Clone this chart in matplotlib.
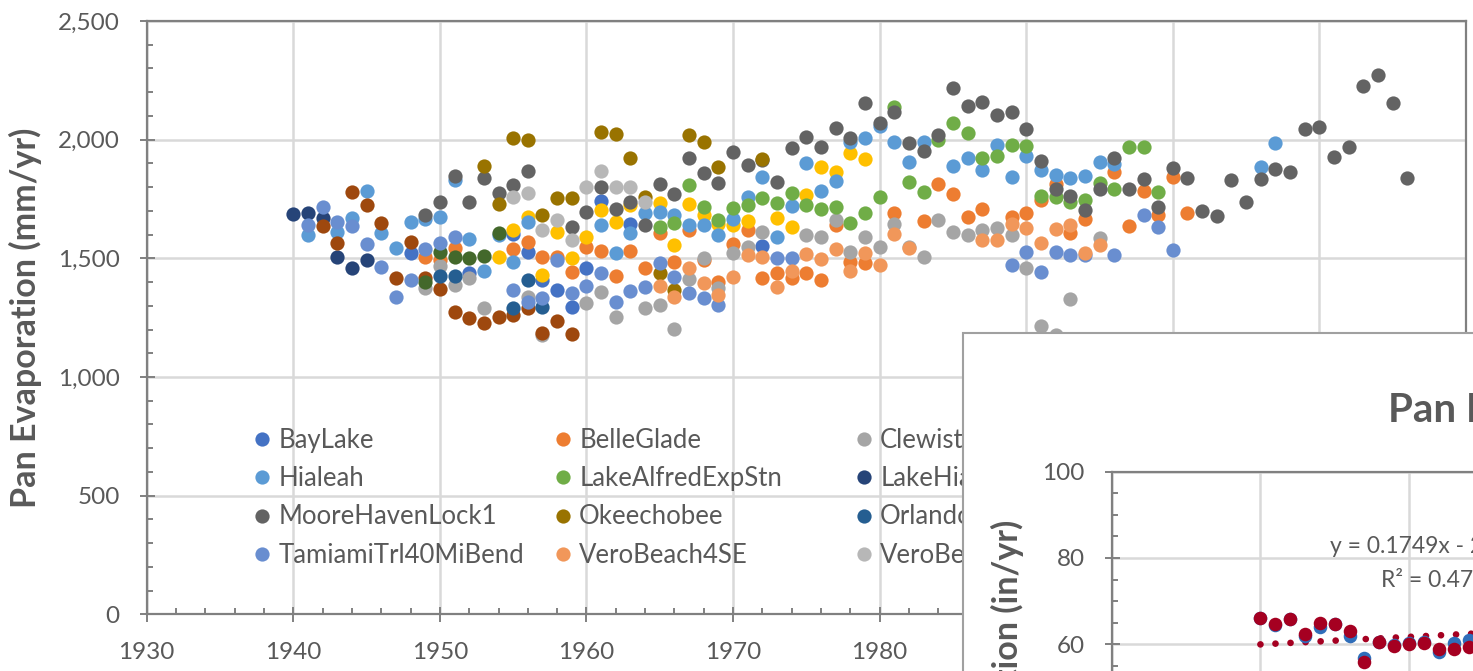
import matplotlib
matplotlib.use("Agg")
import matplotlib.pyplot as plt
from matplotlib.patches import Rectangle
from matplotlib.ticker import MultipleLocator, FuncFormatter

# ---------------- data (main chart, mm/yr) ----------------
baylake_years = [1948, 1952, 1955, 1956, 1957, 1958, 1959, 1960, 1961, 1963, 1972]
baylake_vals = [1524, 1440, 1601, 1525, 1409, 1367, 1296, 1458, 1743, 1645, 1553]

belleglade_years = [1949, 1950, 1951, 1955, 1956, 1957, 1958, 1959, 1960, 1961, 1962, 1963, 1964,
                    1965, 1966, 1967, 1968, 1969, 1970, 1971, 1972, 1973, 1974, 1975, 1976, 1977,
                    1978, 1979, 1981, 1983, 1984, 1985, 1986, 1987, 1989, 1990, 1991, 1992, 1993,
                    1994, 1996, 1997, 1998, 1999, 2000, 2001]
belleglade_vals = [1507, 1493, 1542, 1538, 1570, 1507, 1507, 1444, 1549, 1532, 1427, 1532, 1460,
                   1605, 1486, 1620, 1493, 1402, 1560, 1619, 1418, 1440, 1416, 1437, 1409, 1640,
                   1486, 1479, 1690, 1657, 1813, 1771, 1675, 1707, 1675, 1692, 1746, 1812, 1608,
                   1666, 1865, 1636, 1785, 1683, 1841, 1693]

clewiston_years = [1949, 1950, 1951, 1952, 1953, 1956, 1957, 1960, 1961, 1962, 1964, 1965, 1966,
                   1967, 1968, 1969, 1970, 1971, 1972, 1975, 1976, 1977, 1978, 1979, 1980, 1981,
                   1982, 1983, 1984, 1985, 1986, 1987, 1988, 1989, 1990, 1991, 1992, 1993, 1995]
clewiston_vals = [1374, 1468, 1388, 1416, 1289, 1338, 1175, 1310, 1359, 1254, 1289, 1303, 1201,
                  1412, 1500, 1374, 1521, 1549, 1612, 1598, 1589, 1661, 1528, 1591, 1549, 1643,
                  1549, 1507, 1661, 1612, 1598, 1619, 1626, 1598, 1458, 1215, 1177, 1327, 1584]

everglades_years = [1954, 1955, 1956, 1957, 1958, 1959, 1960, 1961, 1962, 1963, 1965, 1966, 1967,
                    1968, 1969, 1970, 1971, 1973, 1974, 1975, 1976, 1977, 1978, 1979]
everglades_vals = [1507, 1619, 1675, 1430, 1613, 1500, 1591, 1704, 1654, 1725, 1732, 1556, 1729,
                   1683, 1645, 1640, 1659, 1669, 1633, 1767, 1883, 1865, 1945, 1917]

hialeah_years = [1941, 1943, 1944, 1945, 1946, 1947, 1948, 1949, 1950, 1951, 1952, 1953, 1954,
                 1955, 1956, 1961, 1962, 1963, 1964, 1965, 1966, 1967, 1968, 1969, 1970, 1971,
                 1972, 1973, 1974, 1975, 1976, 1977, 1978, 1979, 1980, 1981, 1982, 1983, 1985,
                 1986, 1987, 1988, 1989, 1990, 1991, 1992, 1993, 1994, 1995, 1996, 2006, 2007]
hialeah_vals = [1598, 1612, 1669, 1785, 1608, 1542, 1654, 1664, 1673, 1830, 1580, 1448, 1598,
                1486, 1654, 1640, 1521, 1608, 1690, 1697, 1683, 1640, 1640, 1598, 1664, 1757,
                1841, 1591, 1720, 1903, 1785, 1827, 1991, 2006, 2058, 1991, 1907, 1990, 1889,
                1921, 1872, 1977, 1844, 1931, 1872, 1851, 1837, 1847, 1907, 1897, 1886, 1987]

lakealfred_years = [1965, 1966, 1967, 1968, 1969, 1970, 1971, 1972, 1973, 1974, 1975, 1976, 1977,
                    1978, 1979, 1980, 1981, 1982, 1983, 1984, 1985, 1986, 1987, 1988, 1989, 1990,
                    1991, 1992, 1993, 1994, 1995, 1996, 1997, 1998, 1999]
lakealfred_vals = [1634, 1648, 1809, 1718, 1661, 1711, 1725, 1753, 1734, 1774, 1725, 1707, 1718,
                   1650, 1692, 1760, 2136, 1823, 1781, 1999, 2069, 2027, 1921, 1931, 1977, 1973,
                   1763, 1760, 1739, 1746, 1819, 1791, 1968, 1968, 1781]

lakehia_years = [1940, 1941, 1942, 1943, 1944, 1945]
lakehia_vals = [1685, 1690, 1669, 1507, 1458, 1493]

lakeplacid_years = [1942, 1943, 1944, 1945, 1946, 1947, 1948, 1949, 1950, 1951, 1952, 1953, 1954,
                    1955, 1956, 1957, 1958, 1959]
lakeplacid_vals = [1636, 1566, 1778, 1725, 1650, 1416, 1570, 1416, 1370, 1275, 1247, 1226, 1251,
                   1261, 1290, 1184, 1237, 1181]

moore_years = [1949, 1950, 1951, 1952, 1953, 1954, 1955, 1956,
               1959, 1960, 1961, 1962, 1963, 1964, 1965, 1966, 1967, 1968,
               1969, 1970, 1971, 1972, 1973, 1974, 1975, 1976, 1977, 1978,
               1979, 1980, 1981, 1982, 1983, 1984, 1985, 1986, 1987, 1988,
               1989, 1990, 1991, 1992, 1993, 1994, 1995, 1996, 1997, 1998,
               1999, 2000, 2001, 2002, 2003, 2004, 2005, 2006, 2007, 2008,
               2009, 2010, 2011, 2012, 2013, 2014, 2015, 2016]
moore_vals = [1682, 1737, 1845, 1737, 1838, 1775, 1809, 1869,
              1633, 1696, 1802, 1708, 1739, 1640, 1813, 1771, 1921, 1861,
              1819, 1949, 1893, 1914, 1823, 1963, 2012, 1970, 2050, 2006,
              2153, 2069, 2115, 1985, 1952, 2020, 2216, 2142, 2160, 2104,
              2115, 2045, 1912, 1792, 1763, 1704, 1791, 1921, 1791, 1834,
              1715, 1879, 1840, 1699, 1678, 1830, 1739, 1834, 1876, 1862,
              2045, 2055, 1928, 1970, 2227, 2272, 2153, 1840]

okee_years = [1953, 1954, 1955, 1956, 1957, 1958, 1959, 1961, 1962, 1963, 1964, 1965, 1966,
              1967, 1968, 1969, 1972]
okee_vals = [1890, 1729, 2008, 1999, 1684, 1755, 1753, 2031, 2022, 1921, 1760, 1437, 1367,
             2020, 1991, 1886, 1917]

orlando_years = [1950, 1951, 1955, 1956, 1957]
orlando_vals = [1425, 1425, 1289, 1409, 1294]

ortona_years = [1949, 1950, 1951, 1952, 1953, 1954]
ortona_vals = [1401, 1528, 1507, 1503, 1511, 1605]

tamiami_years = [1941, 1942, 1943, 1944, 1945, 1946, 1947, 1948, 1949, 1950, 1951, 1955, 1956,
                 1957, 1958, 1959, 1960, 1961, 1962, 1963, 1964, 1965, 1966, 1967, 1968, 1969,
                 1973, 1974, 1989, 1990, 1991, 1992, 1993, 1994, 1996, 1998, 1999, 2000]
tamiami_vals = [1640, 1718, 1654, 1636, 1560, 1462, 1336, 1409, 1540, 1566, 1591, 1367, 1317,
                1332, 1493, 1353, 1384, 1437, 1317, 1364, 1380, 1479, 1422, 1355, 1332, 1303,
                1500, 1500, 1470, 1528, 1442, 1528, 1514, 1514, 1514, 1683, 1631, 1535]

vero4se_years = [1965, 1966, 1967, 1968, 1969, 1970, 1971, 1972, 1973, 1974, 1975, 1976, 1977,
                 1978, 1979, 1980, 1981, 1982, 1987, 1988, 1989, 1990, 1991, 1992, 1993, 1994,
                 1995]
vero4se_vals = [1383, 1338, 1460, 1397, 1346, 1422, 1514, 1507, 1380, 1448, 1518, 1496, 1538,
                1448, 1521, 1472, 1602, 1542, 1579, 1577, 1643, 1626, 1563, 1622, 1640, 1521,
                1556]

veromuni_years = [1955, 1956, 1957, 1958, 1959, 1960, 1961, 1962, 1963, 1964]
veromuni_vals = [1760, 1774, 1619, 1661, 1577, 1802, 1869, 1802, 1802, 1739]

series_names = ["BayLake", "BelleGlade", "Clewiston", "Everglades",
                "Hialeah", "LakeAlfredExpStn", "LakeHiawatha", "LakePlacid",
                "MooreHavenLock1", "Okeechobee", "OrlandoWSO", "Ortona",
                "TamiamiTrl40MiBend", "VeroBeach4SE", "VeroBeachMuni"]
series_colors = ["#4472C4", "#ED7D31", "#A5A5A5", "#FFC000",
                 "#5B9BD5", "#70AD47", "#264478", "#9E480E",
                 "#636363", "#997300", "#255E91", "#43682B",
                 "#698ED0", "#F1975A", "#B7B7B7"]
series_years = [baylake_years, belleglade_years, clewiston_years, everglades_years,
                hialeah_years, lakealfred_years, lakehia_years, lakeplacid_years,
                moore_years, okee_years, orlando_years, ortona_years,
                tamiami_years, vero4se_years, veromuni_years]
series_vals = [baylake_vals, belleglade_vals, clewiston_vals, everglades_vals,
               hialeah_vals, lakealfred_vals, lakehia_vals, lakeplacid_vals,
               moore_vals, okee_vals, orlando_vals, ortona_vals,
               tamiami_vals, vero4se_vals, veromuni_vals]

# ---------------- data (inset chart, in/yr) ----------------
inset_years = [1940, 1941, 1942, 1943, 1944, 1945, 1946, 1947, 1948, 1949, 1950, 1951, 1952, 1953, 1954]
inset_red = [66.0, 64.7, 65.8, 62.4, 64.9, 64.7, 63.1, 55.9, 60.6, 59.6, 60.0, 60.2, 58.8, 58.8, 59.4]
inset_blue = [66.0, 64.5, 65.8, 62.0, 64.1, 64.6, 61.9, 56.8, 60.6, 59.8, 60.2, 60.6, 58.3, 60.2, 61.0]
trend_slope = 0.1749
trend_intercept = -279.33
trend_span = [1940, 2020]
trend_r2 = "0.4712"

# ---------------- styling ----------------
W, H, DPI = 1473, 671, 100
plt.rcParams['font.family'] = ['Lato', 'DejaVu Sans']
TXT = '#595959'
AXC = '#808080'
GRID = '#D9D9D9'
TICK_FS = 17.5
LEG_FS = 18.5
MS = 105
LAST_VISIBLE_YEAR_LABEL = 1980  # later year labels sit under the overlapping inset


def px_rect(l, t, r, b):
    return [l / W, 1 - b / H, (r - l) / W, (b - t) / H]


def fx(x):
    return x / W


def fy(y):
    return 1 - y / H


fig = plt.figure(figsize=(W / DPI, H / DPI), dpi=DPI)
fig.patch.set_facecolor('white')

# ---------------- main chart ----------------
ax = fig.add_axes(px_rect(146.7, 21, 1466, 614.3))
ax.set_axisbelow(True)
for yrs, vals, col in zip(series_years, series_vals, series_colors):
    ax.scatter(yrs, vals, s=MS, color=col, linewidths=0, zorder=3)

ax.xaxis.set_major_locator(MultipleLocator(10))
ax.xaxis.set_minor_locator(MultipleLocator(2))
ax.xaxis.set_major_formatter(FuncFormatter(
    lambda v, p: f"{int(round(v))}" if v <= LAST_VISIBLE_YEAR_LABEL + 0.5 else ""))
ax.yaxis.set_major_locator(MultipleLocator(500))
ax.yaxis.set_minor_locator(MultipleLocator(100))
ax.yaxis.set_major_formatter(FuncFormatter(lambda v, p: f"{int(v):,}"))
ax.grid(which='major', color=GRID, lw=1.8)
for sp in ax.spines.values():
    sp.set_color(AXC)
    sp.set_linewidth(1.6)
ax.tick_params(which='major', direction='inout', length=10.8, width=1.4, color=AXC,
               labelsize=TICK_FS, labelcolor=TXT, pad=14)
ax.tick_params(axis='x', which='major', pad=14.5)
ax.tick_params(which='minor', direction='in', length=4.3, width=1.4, color=AXC)
ax.set_ylabel('Pan Evaporation (mm/yr)', fontsize=24.5, fontweight='bold', color=TXT)
ax.yaxis.set_label_coords(-0.0794, 0.5)

# legend (4 columns, row-major like Excel)
for i, (name, col) in enumerate(zip(series_names, series_colors)):
    r, c = divmod(i, 4)
    mx = 261.7 + 301 * c
    my = 439.3 + 38.1 * r
    ax.scatter([fx(mx)], [fy(my)], s=MS, color=col, linewidths=0,
               transform=fig.transFigure, clip_on=False, zorder=4)
    ax.text(fx(mx + 16.5), fy(my + 9.0), name, fontsize=LEG_FS, color=TXT,
            ha='left', va='baseline', transform=fig.transFigure, clip_on=False, zorder=4)
ax.set_xlim(1930, 2020)
ax.set_ylim(0, 2500)

# ---------------- overlapping inset chart ----------------
frame = Rectangle((fx(963), fy(H + 20)), (W + 20 - 963) / W, (H + 20 - 333) / H,
                  transform=fig.transFigure, facecolor='white', edgecolor='#A0A0A0',
                  lw=1.5, zorder=5)
fig.add_artist(frame)

iax = fig.add_axes(px_rect(1111.7, 471.7, 1111.7 + 9 * 148.7, 471.7 + 5 * 86.3), zorder=6)
iax.set_axisbelow(True)
iax.scatter(inset_years, inset_blue, s=95, color='#2F6EBA', linewidths=0, zorder=3)
iax.scatter(inset_years, inset_red, s=95, color='#A50021', linewidths=0, zorder=4)
iax.plot(trend_span, [trend_slope * x + trend_intercept for x in trend_span],
         color='#A50021', lw=4.8, linestyle=(0, (0.01, 2.25)), dash_capstyle='round', zorder=2)
iax.set_xlim(1930, 2020)
iax.set_ylim(0, 100)
iax.xaxis.set_major_locator(MultipleLocator(10))
iax.xaxis.set_minor_locator(MultipleLocator(2))
iax.yaxis.set_major_locator(MultipleLocator(20))
iax.yaxis.set_minor_locator(MultipleLocator(5))
iax.grid(which='major', color=GRID, lw=1.8)
for sp in iax.spines.values():
    sp.set_color(AXC)
    sp.set_linewidth(1.6)
iax.tick_params(which='major', direction='inout', length=10.8, width=1.4, color=AXC,
                labelsize=TICK_FS, labelcolor=TXT, pad=14)
iax.tick_params(which='minor', direction='in', length=4.3, width=1.4, color=AXC)
iax.tick_params(axis='x', labelbottom=False)

fig.text(fx(1388), fy(421.7), 'Pan Evaporation', fontsize=29, fontweight='bold', color=TXT,
         ha='left', va='baseline', zorder=7)
fig.text(fx(991), fy(520), 'Pan Evaporation (in/yr)', rotation=90, fontsize=24.5,
         fontweight='bold', color=TXT, ha='left', va='top', zorder=7)
fig.text(fx(1330), fy(552.7), f'y = {trend_slope}x - {abs(trend_intercept)}', fontsize=16.5,
         color=TXT, ha='left', va='baseline', zorder=7)
fig.text(fx(1380.7), fy(586.7), f'R² = {trend_r2}', fontsize=16.5,
         color=TXT, ha='left', va='baseline', zorder=7)

fig.savefig('out.png', dpi=DPI)
